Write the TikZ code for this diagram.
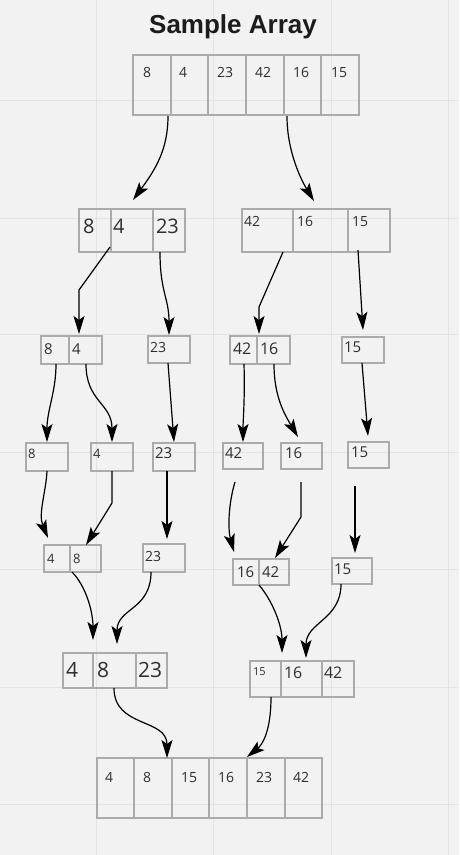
\documentclass[tikz,border=0pt]{standalone}
\usepackage{fontspec}
\setmainfont{Open Sans}
\newfontfamily\titlefont{Liberation Sans}
\usetikzlibrary{arrows.meta}
\definecolor{bgcol}{HTML}{F2F2F2}
\definecolor{gridcol}{HTML}{E3E3E3}
\definecolor{boxcol}{HTML}{ABABAB}
\definecolor{numcol}{HTML}{2E2E2E}
\definecolor{titlecol}{HTML}{1C1C1C}
\tikzset{
  cellbox/.style={draw=boxcol, line width=1.4pt, rectangle, inner sep=0pt, outer sep=0pt},
  num/.style={text=numcol, inner sep=0pt, outer sep=0pt},
  conn/.style={draw=black, line width=1.2pt, -{Stealth[length=18pt,width=11pt,inset=4pt]}},
  gridline/.style={draw=gridcol, line width=1pt}
}
% name, x1, y1, x2, y2, text x, text baseline y, font size, text
\newcommand\acell[9]{%
  \node[cellbox, minimum width={(#4-#2)*1pt}, minimum height={(#5-#3)*1pt}, anchor=north west] (#1) at (#2,#3) {};
  \node[num, font=\fontsize{#8}{#8}\selectfont, anchor=base west] (#1t) at (#6,#7) {#9};
}
\begin{document}
\begin{tikzpicture}[x=1pt,y=-1pt]
\useasboundingbox (0,0) rectangle (459,855);
\fill[bgcol] (0,0) rectangle (459,855);
% grid
\foreach \gx in {96,213,331,448} \draw[gridline] (\gx,0) -- (\gx,855);
\foreach \gy in {100,218,334,452,569,687,804} \draw[gridline] (0,\gy) -- (459,\gy);

% title
\node[text=titlecol, font=\titlefont\bfseries\fontsize{26}{26}\selectfont, anchor=base] (title) at (233,33) {Sample Array};

% top array
\acell{a1}{133}{55}{171}{115}{143}{77}{14}{8}
\acell{a2}{171}{55}{208}{115}{179}{77}{14}{4}
\acell{a3}{208}{55}{246}{115}{217}{77}{14}{23}
\acell{a4}{246}{55}{284}{115}{255}{77}{14}{42}
\acell{a5}{284}{55}{321}{115}{293}{77}{14}{16}
\acell{a6}{321}{55}{359}{115}{331}{77}{14}{15}

% row 2
\acell{b1}{79}{209}{111}{252}{83}{233}{20}{8}
\acell{b2}{111}{209}{153}{252}{113}{233}{20}{4}
\acell{b3}{153}{209}{185}{252}{156}{233}{20}{23}
\acell{c1}{242}{209}{293}{252}{244}{226}{14}{42}
\acell{c2}{293}{209}{348}{252}{297}{226}{14}{16}
\acell{c3}{348}{209}{390}{252}{352}{226}{14}{15}

% row 3
\acell{d1}{41}{336}{69}{364}{44}{354}{15}{8}
\acell{d2}{69}{336}{102}{364}{72}{354}{15}{4}
\acell{d3}{148}{336}{190}{363}{150}{352}{14}{23}
\acell{d4}{230}{336}{257}{364}{233}{354}{16}{42}
\acell{d5}{257}{336}{290}{364}{260}{354}{16}{16}
\acell{d6}{342}{337}{384}{363}{344}{352}{15}{15}

% row 4
\acell{e1}{26}{443}{68}{471}{28}{458}{13}{8}
\acell{e2}{91}{443}{133}{471}{93}{458}{13}{4}
\acell{e3}{153}{443}{195}{471}{155}{458}{15}{23}
\acell{e4}{223}{443}{263}{469}{225}{458}{15}{42}
\acell{e5}{281}{443}{322}{469}{285}{458}{15}{16}
\acell{e6}{348}{442}{389}{468}{351}{457}{15}{15}

% row 5
\acell{f1}{44}{545}{70}{572}{47}{563}{13}{4}
\acell{f2}{70}{545}{101}{572}{73}{563}{13}{8}
\acell{f3}{143}{544}{185}{572}{145}{561}{14}{23}
\acell{f4}{233}{559}{259}{585}{237}{577}{15}{16}
\acell{f5}{259}{559}{289}{585}{262}{577}{15}{42}
\acell{f6}{332}{558}{372}{584}{334}{574}{15}{15}

% row 6
\acell{g1}{63}{653}{93}{688}{66}{677}{21}{4}
\acell{g2}{93}{653}{136}{688}{97}{677}{21}{8}
\acell{g3}{136}{653}{167}{688}{138}{677}{21}{23}
\acell{h1}{250}{661}{281}{697}{253}{675}{11}{15}
\acell{h2}{281}{661}{322}{697}{284}{678}{16}{16}
\acell{h3}{322}{661}{354}{697}{324}{678}{16}{42}

% final array
\acell{z1}{97}{758}{134}{818}{105}{782}{14}{4}
\acell{z2}{134}{758}{172}{818}{143}{782}{14}{8}
\acell{z3}{172}{758}{209}{818}{181}{782}{14}{15}
\acell{z4}{209}{758}{247}{818}{218}{782}{14}{16}
\acell{z5}{247}{758}{285}{818}{256}{782}{14}{23}
\acell{z6}{285}{758}{322}{818}{293}{782}{14}{42}

% connector end points
\coordinate (pA1s) at (168,116); \coordinate (pA1e) at (133,200);
\coordinate (pA2s) at (287,116); \coordinate (pA2e) at (314,201);
\coordinate (pB1s) at (110,247); \coordinate (pB1e) at (79,334);
\coordinate (pB2s) at (160,252); \coordinate (pB2e) at (169,335);
\coordinate (pB3s) at (283,252); \coordinate (pB3e) at (259,334);
\coordinate (pB4s) at (358,250); \coordinate (pB4e) at (363,330);
\coordinate (pC1s) at (56,364); \coordinate (pC1e) at (47,442);
\coordinate (pC2s) at (86,364); \coordinate (pC2e) at (112,442);
\coordinate (pC3s) at (168,363); \coordinate (pC3e) at (174,442);
\coordinate (pC4s) at (244,364); \coordinate (pC4e) at (243,442);
\coordinate (pC5s) at (274,364); \coordinate (pC5e) at (298,437);
\coordinate (pC6s) at (362,363); \coordinate (pC6e) at (368,436);
\coordinate (pD1s) at (47,471); \coordinate (pD1e) at (48,538);
\coordinate (pD2s) at (112,471); \coordinate (pD2e) at (86,545);
\coordinate (pD3s) at (167,471); \coordinate (pD3e) at (167,539);
\coordinate (pD4s) at (235,482); \coordinate (pD4e) at (234,552);
\coordinate (pD5s) at (301,482); \coordinate (pD5e) at (275,558);
\coordinate (pD6s) at (355,486); \coordinate (pD6e) at (355,553);
\coordinate (pE1s) at (72,572); \coordinate (pE1e) at (93,640);
\coordinate (pE2s) at (151,572); \coordinate (pE2e) at (117,644);
\coordinate (pE3s) at (259,585); \coordinate (pE3e) at (282,653);
\coordinate (pE4s) at (341,584); \coordinate (pE4e) at (306,658);
\coordinate (pF1s) at (114,688); \coordinate (pF1e) at (167,758);
\coordinate (pF2s) at (271,697); \coordinate (pF2e) at (247,757);

% connectors
\draw[conn] (pA1s) .. controls (168,150) and (155,170) .. (pA1e);
\draw[conn] (pA2s) .. controls (287,150) and (300,178) .. (pA2e);
\draw[conn] (pB1s) -- (79,290) -- (pB1e);
\draw[conn] (pB2s) .. controls (160,292) and (169,298) .. (pB2e);
\draw[conn] (pB3s) -- (259,307) -- (pB3e);
\draw[conn] (pB4s) -- (pB4e);
\draw[conn] (pC1s) .. controls (56,392) and (47,410) .. (pC1e);
\draw[conn] (pC2s) .. controls (86,402) and (112,403) .. (pC2e);
\draw[conn] (pC3s) -- (pC3e);
\draw[conn] (pC4s) .. controls (245,400) and (243,420) .. (pC4e);
\draw[conn] (pC5s) .. controls (274,397) and (285,415) .. (pC5e);
\draw[conn] (pC6s) -- (pC6e);
\draw[conn] (pD1s) .. controls (46,492) and (38,514) .. (pD1e);
\draw[conn] (pD2s) -- (112,503) -- (pD2e);
\draw[conn] (pD3s) -- (pD3e);
\draw[conn] (pD4s) .. controls (228,505) and (228,530) .. (pD4e);
\draw[conn] (pD5s) -- (301,517) -- (pD5e);
\draw[conn] (pD6s) -- (pD6e);
\draw[conn] (pE1s) .. controls (86,586) and (93,612) .. (pE1e);
\draw[conn] (pE2s) .. controls (151,610) and (117,608) .. (pE2e);
\draw[conn] (pE3s) .. controls (272,600) and (282,625) .. (pE3e);
\draw[conn] (pE4s) .. controls (341,620) and (306,622) .. (pE4e);
\draw[conn] (pF1s) .. controls (114,728) and (167,718) .. (pF1e);
\draw[conn] (pF2s) .. controls (271,732) and (262,745) .. (pF2e);
\end{tikzpicture}
\end{document}
